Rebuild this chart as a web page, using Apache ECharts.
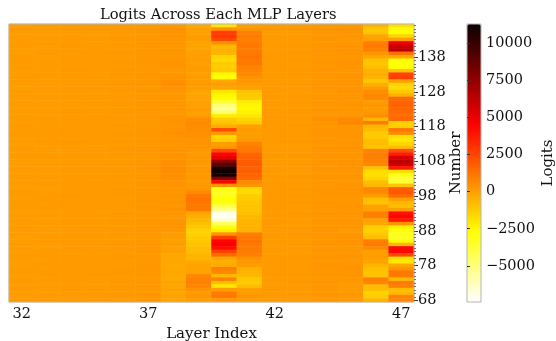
<!DOCTYPE html>
<html>
<head>
<meta charset="utf-8">
<script src="https://cdn.jsdelivr.net/npm/echarts@6/dist/echarts.min.js"></script>
<style>
  html, body { margin: 0; padding: 0; background: #fff; }
  #chart { width: 556px; height: 341px; }
</style>
</head>
<body>
<div id="chart"></div>
<script>
// Heatmap of MLP-layer logits: x = layer index, y = number (top row 147 .. bottom row 68)
const layers = [32, 33, 34, 35, 36, 37, 38, 39, 40, 41, 42, 43, 44, 45, 46, 47];
const numbers = [
  147, 146, 145, 144, 143, 142, 141, 140, 139, 138,
  137, 136, 135, 134, 133, 132, 131, 130, 129, 128,
  127, 126, 125, 124, 123, 122, 121, 120, 119, 118,
  117, 116, 115, 114, 113, 112, 111, 110, 109, 108,
  107, 106, 105, 104, 103, 102, 101, 100, 99, 98,
  97, 96, 95, 94, 93, 92, 91, 90, 89, 88,
  87, 86, 85, 84, 83, 82, 81, 80, 79, 78,
  77, 76, 75, 74, 73, 72, 71, 70, 69, 68,
];
const colorbarTicks = [-5000, -2500, 0, 2500, 5000, 7500, 10000];
const logitMin = -7430;
const logitMax = 11280;

// one array per layer, rows listed top (147) to bottom (68)
const L32 = [100,110,90,120,100,130,110,90,100,120, 110,100,130,90,100,110,120,100,90,110, 120,100,110,130,100,90,110,120,100,110, 100,120,110,90,100,130,110,100,120,100, 90,110,100,120,130,110,100,90,110,120, 100,110,120,100,90,110,130,100,110,120, 110,100,90,120,110,100,130,110,100,90, 120,110,100,110,130,100,120,110,100,110];
const L33 = [120,100,110,90,130,110,100,120,110,90, 100,130,110,100,120,90,110,100,130,110, 100,120,90,110,100,130,100,110,120,90, 110,100,120,130,110,100,90,120,110,100, 130,100,110,90,120,110,130,100,90,110, 120,100,110,130,100,120,90,110,100,130, 100,110,120,90,100,130,110,100,120,110, 90,120,110,100,130,110,90,100,120,110];
const L34 = [140,120,150,130,110,140,160,120,130,150, 120,140,130,160,120,110,140,130,150,120, 130,150,120,140,130,160,120,140,130,110, 150,130,140,120,160,130,120,150,140,130, 120,140,160,130,120,150,130,140,120,160, 130,120,140,150,130,120,160,140,130,120, 150,140,120,130,160,140,120,130,150,140, 130,120,150,140,130,160,140,120,130,150];
const L35 = [110,130,120,100,140,120,110,130,150,120, 130,110,140,120,100,130,120,140,110,130, 120,140,110,130,150,120,110,130,120,140, 110,130,120,140,110,130,150,120,130,110, 140,120,130,110,150,120,140,130,110,120, 130,110,140,120,130,150,110,120,140,130, 120,140,110,130,120,110,140,130,120,150, 110,130,140,120,110,130,120,140,130,120];
const L36 = [160,140,170,150,180,140,160,150,170,140, 150,170,140,160,180,150,140,170,160,150, 180,150,160,140,170,160,150,180,140,160, 150,170,160,140,150,180,160,170,150,140, 160,150,170,180,140,160,150,170,160,150, 140,170,160,150,180,140,160,170,150,160, 170,150,140,160,170,150,180,160,140,150, 160,170,150,140,160,180,150,160,170,150];
const L37 = [200,180,220,190,210,230,200,190,220,210, 190,220,200,230,190,210,200,220,180,210, 230,200,190,210,220,200,230,190,210,200, 220,190,210,200,230,220,190,200,210,230, 200,220,190,210,200,230,210,190,220,200, 210,190,230,200,220,210,190,200,230,210, 190,220,200,210,190,230,200,220,210,190, 200,230,210,190,220,200,210,230,190,200];
const L38 = [200,300,350,300,250,200,200,250,200,200, 250,300,250,200,250,300,400,450,350,250, 200,250,200,250,200,200,250,300,300,250, 350,400,350,300,250,250,300,300,350,400, 400,500,500,450,400,350,300,250,250,300, 250,300,250,300,250,200,250,300,250,200, 100,50,0,50,0,0,-200,-250,-200,-300, -250,-200,-250,-300,-100,-150,-100,-150,-100,-150];
const L39 = [-200,-100,0,100,100,-100,-100,-100,0,0, 50,0,100,50,0,100,100,150,100,-100, -100,-100,0,0,50,0,100,500,600,500, 500,400,400,300,300,300,200,150,200,200, 150,200,200,150,200,150,200,250,600,1100, 1200,1100,1000,1000,-200,-400,-700,-900,-1100,-1400, -1400,-1200,-1100,-1000,-900,-800,-600,-600,-300,-100, -100,-100,700,800,800,700,300,100,200,100];
const L40 = [-2000,300,2700,2900,2400,400,-700,-500,-600,-1500, -1600,-1200,-1300,-1100,-2500,-2700,-200,0,-100,-2000, -2400,-2600,-3500,-5000,-5500,-4500,-2200,-1200,-1000,-400, 2300,200,-1500,-1300,100,200,2400,4300,5200,7500, 9000,10500,11200,11000,7800,4500,300,-3000,-3400,-3100, -2700,-2900,-4200,-5200,-7000,-7400,-6500,-4500,-2800,-2200, 300,2800,4400,4600,4200,2600,1500,-300,-400,-300, 900,600,-700,800,-900,-2000,100,1000,1100,200];
const L41 = [100,200,900,1000,900,1000,1100,900,1100,1200, 1000,1100,800,700,600,300,200,100,0,-1000, -1100,-1300,-2200,-2400,-2500,-2300,-2000,-1500,-1200,0, 100,0,100,200,800,1000,1100,1600,1700,1800, 1900,1700,1800,1600,1500,600,300,-1600,-1700,-1300, -1200,-1100,-1000,-1000,-900,-700,-600,-600,-500,-600, 900,1100,1200,1100,1000,1000,900,300,200,100, -500,-600,-700,-1100,-1200,-800,0,100,200,150];
const L42 = [130,120,140,110,130,150,120,130,140,120, 110,130,120,140,130,120,150,130,120,110, 140,130,120,130,150,120,140,110,130,120, 130,140,120,150,130,110,120,140,130,120, 150,130,120,140,110,130,120,150,140,130, 120,110,130,140,120,150,130,120,110,140, 130,120,150,130,140,120,110,130,120,150, 140,130,120,110,130,150,120,140,130,120];
const L43 = [150,160,140,170,150,140,160,150,170,140, 160,150,140,160,170,150,140,160,150,140, 170,150,160,140,150,170,140,160,150,160, 140,150,170,160,140,150,160,140,170,150, 160,140,150,170,160,140,150,160,140,170, 150,160,140,150,170,160,140,150,160,140, 170,150,140,160,150,140,170,160,150,140, 160,150,170,140,160,150,140,170,150,160];
const L44 = [250,230,270,240,260,220,250,270,240,230, 260,250,230,270,240,260,250,230,270,240, 230,260,250,240,270,230,250,380,260,240, 270,250,230,260,240,270,250,230,260,250, 240,270,230,250,260,240,230,270,250,260, 230,250,270,240,260,230,250,240,270,260, 250,230,260,270,240,250,230,260,240,270, 260,240,250,230,270,260,240,250,230,250];
const L45 = [200,250,300,280,220,260,300,320,250,230, 260,300,280,240,260,300,280,250,320,300, 270,250,280,300,260,240,280,600,700,260, 280,300,260,240,280,300,250,260,280,300, 320,300,280,260,250,240,300,320,280,260, 240,260,300,280,250,240,260,280,200,150, 250,300,320,280,260,240,300,250,230,280, 300,260,250,200,180,150,100,200,150,120];
const L46 = [-500,-1100,-1000,-200,0,900,1000,900,200,-200, -1000,-1100,-800,-500,-400,-600,-1100,-400,100,500, 700,600,100,200,100,200,500,-600,1100,-700, -800,-1200,-1200,-900,-800,-1000,800,900,900,800, 700,-1000,-1700,-1800,-1500,-900,-700,700,600,100, -900,-1000,-100,0,900,900,-100,-200,-1300,-1400, -1100,-900,900,1000,600,0,100,0,-100,-600, -900,-1000,-1000,900,700,-800,-900,-1400,-1300,-600];
const L47 = [-1800,-2600,-2700,-1500,0,4800,6000,6200,1200,-200, -2700,-2800,-2700,-1000,2600,2700,0,-1500,-1600,-1200, -500,1500,1600,1700,1600,1500,1400,1500,-1400,-1300, 1000,500,-1800,-2000,-1500,-900,2300,3600,5600,6300, 5800,3800,-1800,-3000,-3800,-3600,-1000,1800,2000,1500, 0,-700,-800,100,4000,4300,3800,300,-2200,-2800, -3200,-3300,-2600,-700,4200,4300,2500,-1800,-2000,-200, 300,1100,1000,-700,1100,900,-800,-700,800,700];

const columns = [L32, L33, L34, L35, L36, L37, L38, L39, L40, L41, L42, L43, L44, L45, L46, L47];

// matplotlib "hot_r" colormap, sampled from its piecewise-linear definition
function hotR(n) {
  const out = [];
  const hex = v => Math.round(Math.min(1, Math.max(0, v)) * 255).toString(16).padStart(2, '0');
  for (let k = 0; k <= n; k++) {
    const s = 1 - k / n;
    const r = s < 0.365079 ? 0.0416 + (1 - 0.0416) * s / 0.365079 : 1;
    const g = s < 0.365079 ? 0 : s < 0.746032 ? (s - 0.365079) / (0.746032 - 0.365079) : 1;
    const b = s < 0.746032 ? 0 : (s - 0.746032) / (1 - 0.746032);
    out.push('#' + hex(r) + hex(g) + hex(b));
  }
  return out;
}

const data = [];
columns.forEach((col, i) => col.forEach((v, j) => data.push([i, j, v])));

const FONT = 'DejaVu Serif';
const INK = '#111';
const SPINE = '#b5b5b5';
const minus = v => String(v).replace('-', '\u2212');

const chart = echarts.init(document.getElementById('chart'), null, { renderer: 'canvas' });
chart.setOption({
  animation: false,
  backgroundColor: '#fff',
  title: {
    text: 'Logits Across Each MLP Layers',
    left: 95, top: 3,
    textStyle: { fontFamily: FONT, fontSize: 14.7, fontWeight: 'normal', color: INK },
  },
  grid: [
    { left: 9, top: 24, width: 405, height: 278, show: true, borderColor: SPINE, borderWidth: 1, z: 10, outerBoundsMode: 'none', containLabel: false },
    { left: 467, top: 24, width: 14, height: 278, show: true, borderColor: SPINE, borderWidth: 1, z: 10, outerBoundsMode: 'none', containLabel: false },
  ],
  xAxis: [
    {
      type: 'category', gridIndex: 0, data: layers,
      name: 'Layer Index', nameLocation: 'middle', nameGap: 19,
      nameTextStyle: { fontFamily: FONT, fontSize: 15, color: INK },
      axisLine: { show: false },
      axisTick: { show: false },
      axisLabel: {
        interval: i => i % 5 === 0, margin: 5,
        fontFamily: FONT, fontSize: 14.5, color: INK,
      },
      splitLine: { show: false },
    },
    { type: 'value', gridIndex: 1, min: 0, max: 1, show: false },
  ],
  yAxis: [
    {
      type: 'category', gridIndex: 0, data: numbers, inverse: true, position: 'right',
      name: 'Number', nameLocation: 'middle', nameRotate: 90, nameGap: 35, nameMoveOverlap: false,
      nameTextStyle: { fontFamily: FONT, fontSize: 15, color: INK },
      axisLine: { show: false },
      axisTick: { show: true, alignWithLabel: true, interval: i => i % 10 === 9, length: 4, lineStyle: { color: '#333' } },
      axisLabel: {
        interval: i => i % 10 === 9, margin: 4,
        fontFamily: FONT, fontSize: 14.5, color: INK,
      },
      splitLine: { show: false },
      z: 11,
    },
    {
      // row-level minor ticks on the right spine
      type: 'category', gridIndex: 0, data: numbers, inverse: true, position: 'right',
      axisLine: { show: false },
      axisTick: { show: true, alignWithLabel: true, interval: 0, length: 2, lineStyle: { color: '#555', width: 0.8 } },
      axisLabel: { show: false },
      splitLine: { show: false },
      z: 11,
    },
    {
      type: 'value', gridIndex: 1, min: logitMin, max: logitMax, position: 'right',
      name: 'Logits', nameLocation: 'middle', nameRotate: 90, nameGap: 60,
      nameTextStyle: { fontFamily: FONT, fontSize: 15, color: INK },
      axisLine: { show: false },
      axisTick: { show: true, customValues: colorbarTicks, length: 3, lineStyle: { color: '#333' } },
      axisLabel: {
        customValues: colorbarTicks, margin: 5, formatter: minus,
        fontFamily: FONT, fontSize: 14.5, color: INK,
      },
      splitLine: { show: false },
      z: 11,
    },
  ],
  visualMap: {
    type: 'continuous',
    seriesIndex: 0, dimension: 2,
    min: logitMin, max: logitMax,
    calculable: false, hoverLink: false,
    left: 467, top: 24, itemWidth: 14, itemHeight: 278, padding: 0,
    text: null, showLabel: false,
    inRange: { color: hotR(48) },
  },
  series: [{
    type: 'heatmap',
    xAxisIndex: 0, yAxisIndex: 0,
    data,
    progressive: 0,
    itemStyle: { borderWidth: 0 },
    emphasis: { disabled: true },
  }],
});
</script>
</body>
</html>
